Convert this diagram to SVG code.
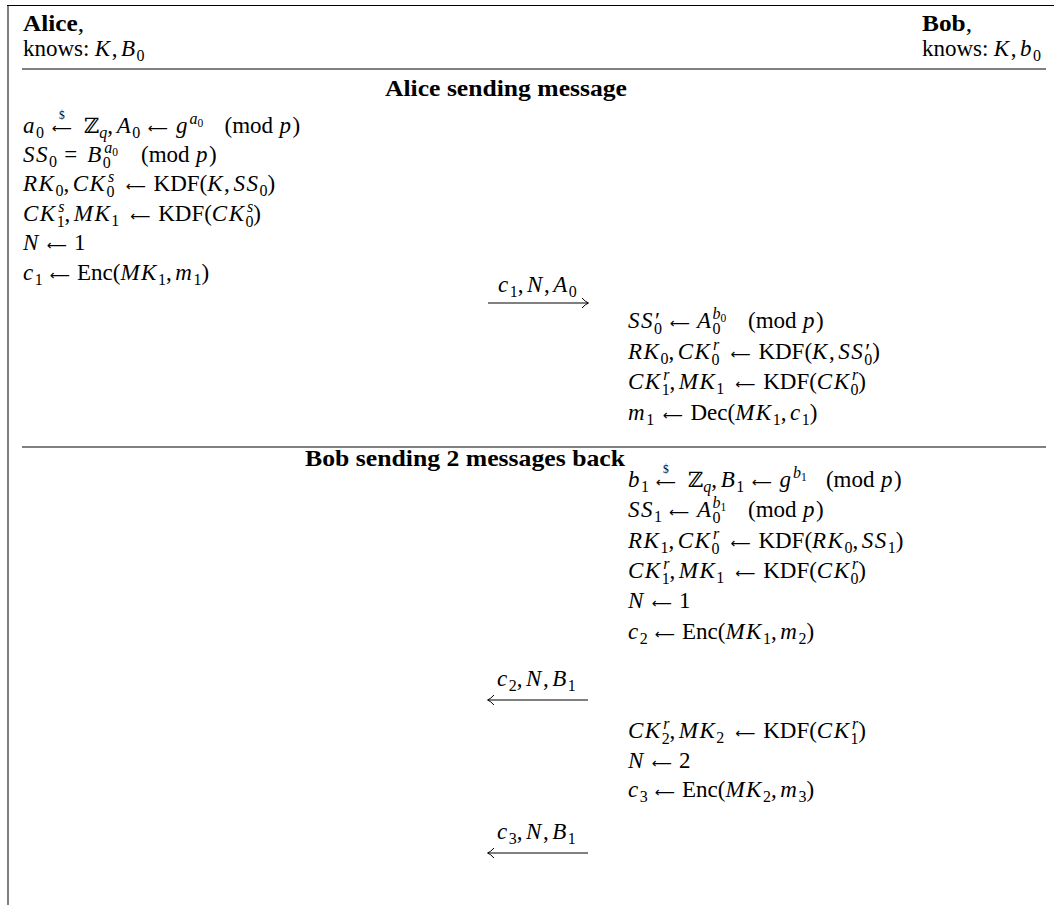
<svg xmlns="http://www.w3.org/2000/svg" width="1054" height="905" viewBox="0 0 1054 905">
<style>
text{font-family:"Liberation Serif","DejaVu Serif",serif;font-size:23px;fill:#000}
.i{font-style:italic;letter-spacing:1.5px}
.s{font-size:16px;letter-spacing:0}
.ss{font-size:11.5px;letter-spacing:0}
.z{font-family:"DejaVu Serif","DejaVu Sans",serif;font-size:21px}
.ar{font-family:"DejaVu Sans",sans-serif;font-size:14px}
.b{font-weight:bold}
.rule{stroke:#000;stroke-width:1;fill:none}
.msg{stroke:#000;stroke-width:1;fill:none;marker-end:url(#head)}
</style>
<defs>
<marker id="head" markerUnits="userSpaceOnUse" markerWidth="12" markerHeight="14" viewBox="-8 -7 10 14" refX="0" refY="0" orient="auto">
<path d="M-6,-5 Q-2.5,-1 0.5,0 Q-2.5,1 -6,5" fill="none" stroke="#000" stroke-width="1"/>
</marker>
</defs>
<rect width="1054" height="905" fill="#fff"/>
<g id="frame">
<line class="rule" x1="7" y1="5.5" x2="1054" y2="5.5"/>
<line class="rule" x1="8" y1="5" x2="8" y2="905"/>
<line class="rule" x1="22" y1="69" x2="1046" y2="69"/>
<line class="rule" x1="22" y1="447" x2="1046" y2="447"/>
</g>
<g id="alice">
<text x="23" y="31" textLength="61" lengthAdjust="spacingAndGlyphs"><tspan class="b">Alice</tspan>,</text>
<text><tspan x="23" y="56">knows:</tspan><tspan class="i" x="94.8" y="56">K</tspan><tspan y="56">,</tspan><tspan class="i" dx="3.6" y="56">B</tspan><tspan class="s" y="60.5">0</tspan></text>
</g>
<g id="bob">
<text x="922" y="31" textLength="50" lengthAdjust="spacingAndGlyphs"><tspan class="b">Bob</tspan>,</text>
<text><tspan x="922" y="56">knows:</tspan><tspan class="i" x="993.8" y="56">K</tspan><tspan y="56">,</tspan><tspan class="i" dx="3.6" y="56">b</tspan><tspan class="s" y="60.5">0</tspan></text>
</g>
<g id="alice-title">
<text class="b" x="385" y="96" textLength="242" lengthAdjust="spacingAndGlyphs">Alice sending message</text>
</g>
<g id="alice-steps">
<text><tspan class="i" x="23" y="133">a</tspan><tspan class="s" y="137.5">0</tspan><tspan class="ar" x="52" y="133">⟵</tspan><tspan class="ss" x="59" y="119">$</tspan><tspan class="z" x="84" y="133">ℤ</tspan><tspan class="s i" y="137.5">q</tspan><tspan y="133">,</tspan><tspan class="i" dx="3.6" y="133">A</tspan><tspan class="s" y="137.5">0</tspan><tspan class="ar" x="148" y="133">⟵</tspan><tspan class="i" x="176" y="133">g</tspan><tspan class="s i" dx="0.5" y="124">a</tspan><tspan class="ss" y="127">0</tspan><tspan x="224.5" y="133">(mod</tspan><tspan class="i" dx="6.5" y="133">p</tspan><tspan y="133">)</tspan></text>
<text><tspan class="i" x="23" y="162">SS</tspan><tspan class="s" y="166.5">0</tspan><tspan x="64.3" y="162">=</tspan><tspan class="i" x="87.2" y="162">B</tspan><tspan class="s" y="168">0</tspan><tspan class="s i" dx="-6.5" y="153">a</tspan><tspan class="ss" y="156">0</tspan><tspan x="141" y="162">(mod</tspan><tspan class="i" dx="6.5" y="162">p</tspan><tspan y="162">)</tspan></text>
<text><tspan class="i" x="23" y="191">RK</tspan><tspan class="s" y="195.5">0</tspan><tspan y="191">,</tspan><tspan class="i" dx="3.6" y="191">CK</tspan><tspan class="s" y="197">0</tspan><tspan class="s i" dx="-6.5" y="182">s</tspan><tspan class="ar" x="125.9" y="191">⟵</tspan><tspan x="153.6" y="191">KDF(</tspan><tspan class="i" y="191">K</tspan><tspan y="191">,</tspan><tspan class="i" dx="3.6" y="191">SS</tspan><tspan class="s" y="195.5">0</tspan><tspan y="191">)</tspan></text>
<text><tspan class="i" x="23" y="221">CK</tspan><tspan class="s" y="227">1</tspan><tspan class="s i" dx="-6.5" y="212">s</tspan><tspan y="221">,</tspan><tspan class="i" dx="3.6" y="221">MK</tspan><tspan class="s" y="225.5">1</tspan><tspan class="ar" x="130.5" y="221">⟵</tspan><tspan x="158.2" y="221">KDF(</tspan><tspan class="i" y="221">CK</tspan><tspan class="s" y="227">0</tspan><tspan class="s i" dx="-6.5" y="212">s</tspan><tspan y="221">)</tspan></text>
<text><tspan class="i" x="23" y="250">N</tspan><tspan class="ar" x="47" y="250">⟵</tspan><tspan x="74.1" y="250">1</tspan></text>
<text><tspan class="i" x="23" y="280">c</tspan><tspan class="s" y="284.5">1</tspan><tspan class="ar" x="50" y="280">⟵</tspan><tspan x="77" y="280">Enc(</tspan><tspan class="i" y="280">MK</tspan><tspan class="s" y="284.5">1</tspan><tspan y="280">,</tspan><tspan class="i" dx="3.6" y="280">m</tspan><tspan class="s" y="284.5">1</tspan><tspan y="280">)</tspan></text>
</g>
<g id="bob-steps-1">
<text><tspan class="i" x="628" y="328">SS</tspan><tspan dx="1" y="328">′</tspan><tspan class="s" dx="-6" y="334">0</tspan><tspan class="ar" x="670" y="328">⟵</tspan><tspan class="i" x="697" y="328">A</tspan><tspan class="s" y="334">0</tspan><tspan class="s i" dx="-8" y="319">b</tspan><tspan class="ss" y="322">0</tspan><tspan x="748" y="328">(mod</tspan><tspan class="i" dx="6.5" y="328">p</tspan><tspan y="328">)</tspan></text>
<text><tspan class="i" x="628" y="359">RK</tspan><tspan class="s" y="363.5">0</tspan><tspan y="359">,</tspan><tspan class="i" dx="3.6" y="359">CK</tspan><tspan class="s" y="365">0</tspan><tspan class="s i" dx="-6.5" y="350">r</tspan><tspan class="ar" x="730.7" y="359">⟵</tspan><tspan x="758.4" y="359">KDF(</tspan><tspan class="i" y="359">K</tspan><tspan y="359">,</tspan><tspan class="i" dx="3.6" y="359">SS</tspan><tspan dx="1" y="359">′</tspan><tspan class="s" dx="-6" y="365">0</tspan><tspan y="359">)</tspan></text>
<text><tspan class="i" x="628" y="389">CK</tspan><tspan class="s" y="395">1</tspan><tspan class="s i" dx="-6.5" y="380">r</tspan><tspan y="389">,</tspan><tspan class="i" dx="3.6" y="389">MK</tspan><tspan class="s" y="393.5">1</tspan><tspan class="ar" x="735.5" y="389">⟵</tspan><tspan x="763.2" y="389">KDF(</tspan><tspan class="i" y="389">CK</tspan><tspan class="s" y="395">0</tspan><tspan class="s i" dx="-6.5" y="380">r</tspan><tspan y="389">)</tspan></text>
<text><tspan class="i" x="628" y="420">m</tspan><tspan class="s" y="424.5">1</tspan><tspan class="ar" x="663" y="420">⟵</tspan><tspan x="690.5" y="420">Dec(</tspan><tspan class="i" y="420">MK</tspan><tspan class="s" y="424.5">1</tspan><tspan y="420">,</tspan><tspan class="i" dx="3.6" y="420">c</tspan><tspan class="s" y="424.5">1</tspan><tspan y="420">)</tspan></text>
</g>
<g id="bob-title">
<text class="b" x="305" y="466" textLength="320" lengthAdjust="spacingAndGlyphs">Bob sending 2 messages back</text>
</g>
<g id="bob-steps-2">
<text><tspan class="i" x="628" y="487">b</tspan><tspan class="s" y="491.5">1</tspan><tspan class="ar" x="656" y="487">⟵</tspan><tspan class="ss" x="663" y="473">$</tspan><tspan class="z" x="688" y="487">ℤ</tspan><tspan class="s i" y="491.5">q</tspan><tspan y="487">,</tspan><tspan class="i" dx="3.6" y="487">B</tspan><tspan class="s" y="491.5">1</tspan><tspan class="ar" x="752" y="487">⟵</tspan><tspan class="i" x="779.6" y="487">g</tspan><tspan class="s i" dx="0.5" y="478">b</tspan><tspan class="ss" y="481">1</tspan><tspan x="825.9" y="487">(mod</tspan><tspan class="i" dx="6.5" y="487">p</tspan><tspan y="487">)</tspan></text>
<text><tspan class="i" x="628" y="517">SS</tspan><tspan class="s" y="521.5">1</tspan><tspan class="ar" x="669.3" y="517">⟵</tspan><tspan class="i" x="697" y="517">A</tspan><tspan class="s" y="523">0</tspan><tspan class="s i" dx="-8" y="508">b</tspan><tspan class="ss" y="511">1</tspan><tspan x="748" y="517">(mod</tspan><tspan class="i" dx="6.5" y="517">p</tspan><tspan y="517">)</tspan></text>
<text><tspan class="i" x="628" y="548">RK</tspan><tspan class="s" y="552.5">1</tspan><tspan y="548">,</tspan><tspan class="i" dx="3.6" y="548">CK</tspan><tspan class="s" y="554">0</tspan><tspan class="s i" dx="-6.5" y="539">r</tspan><tspan class="ar" x="730.7" y="548">⟵</tspan><tspan x="758.4" y="548">KDF(</tspan><tspan class="i" y="548">RK</tspan><tspan class="s" y="552.5">0</tspan><tspan y="548">,</tspan><tspan class="i" dx="3.6" y="548">SS</tspan><tspan class="s" y="552.5">1</tspan><tspan y="548">)</tspan></text>
<text><tspan class="i" x="628" y="578">CK</tspan><tspan class="s" y="584">1</tspan><tspan class="s i" dx="-6.5" y="569">r</tspan><tspan y="578">,</tspan><tspan class="i" dx="3.6" y="578">MK</tspan><tspan class="s" y="582.5">1</tspan><tspan class="ar" x="735.5" y="578">⟵</tspan><tspan x="763.2" y="578">KDF(</tspan><tspan class="i" y="578">CK</tspan><tspan class="s" y="584">0</tspan><tspan class="s i" dx="-6.5" y="569">r</tspan><tspan y="578">)</tspan></text>
<text><tspan class="i" x="628" y="608">N</tspan><tspan class="ar" x="652" y="608">⟵</tspan><tspan x="679.1" y="608">1</tspan></text>
<text><tspan class="i" x="628" y="639">c</tspan><tspan class="s" y="643.5">2</tspan><tspan class="ar" x="655" y="639">⟵</tspan><tspan x="682" y="639">Enc(</tspan><tspan class="i" y="639">MK</tspan><tspan class="s" y="643.5">1</tspan><tspan y="639">,</tspan><tspan class="i" dx="3.6" y="639">m</tspan><tspan class="s" y="643.5">2</tspan><tspan y="639">)</tspan></text>
</g>
<g id="bob-steps-3">
<text><tspan class="i" x="628" y="738">CK</tspan><tspan class="s" y="744">2</tspan><tspan class="s i" dx="-6.5" y="729">r</tspan><tspan y="738">,</tspan><tspan class="i" dx="3.6" y="738">MK</tspan><tspan class="s" y="742.5">2</tspan><tspan class="ar" x="735.5" y="738">⟵</tspan><tspan x="763.2" y="738">KDF(</tspan><tspan class="i" y="738">CK</tspan><tspan class="s" y="744">1</tspan><tspan class="s i" dx="-6.5" y="729">r</tspan><tspan y="738">)</tspan></text>
<text><tspan class="i" x="628" y="768">N</tspan><tspan class="ar" x="652" y="768">⟵</tspan><tspan x="679.1" y="768">2</tspan></text>
<text><tspan class="i" x="628" y="797">c</tspan><tspan class="s" y="801.5">3</tspan><tspan class="ar" x="655" y="797">⟵</tspan><tspan x="682" y="797">Enc(</tspan><tspan class="i" y="797">MK</tspan><tspan class="s" y="801.5">2</tspan><tspan y="797">,</tspan><tspan class="i" dx="3.6" y="797">m</tspan><tspan class="s" y="801.5">3</tspan><tspan y="797">)</tspan></text>
</g>
<g id="connectors">
<line class="msg" x1="488" y1="303" x2="588" y2="303"/>
<text><tspan class="i" x="498" y="292">c</tspan><tspan class="s" y="296.5">1</tspan><tspan y="292">,</tspan><tspan class="i" dx="3.6" y="292">N</tspan><tspan y="292">,</tspan><tspan class="i" dx="3.6" y="292">A</tspan><tspan class="s" y="296.5">0</tspan></text>
<line class="msg" x1="588" y1="700" x2="488" y2="700"/>
<text><tspan class="i" x="497" y="686">c</tspan><tspan class="s" y="690.5">2</tspan><tspan y="686">,</tspan><tspan class="i" dx="3.6" y="686">N</tspan><tspan y="686">,</tspan><tspan class="i" dx="3.6" y="686">B</tspan><tspan class="s" y="690.5">1</tspan></text>
<line class="msg" x1="588" y1="853" x2="488" y2="853"/>
<text><tspan class="i" x="497" y="839">c</tspan><tspan class="s" y="843.5">3</tspan><tspan y="839">,</tspan><tspan class="i" dx="3.6" y="839">N</tspan><tspan y="839">,</tspan><tspan class="i" dx="3.6" y="839">B</tspan><tspan class="s" y="843.5">1</tspan></text>
</g>
</svg>
